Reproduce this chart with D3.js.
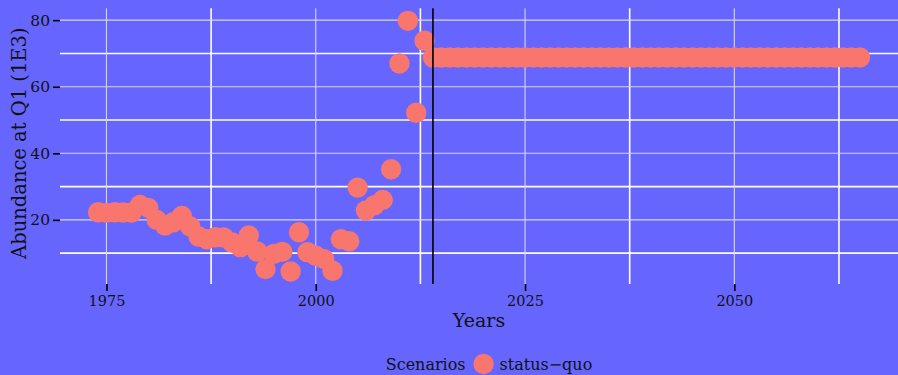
<!DOCTYPE html>
<html>
<head>
<meta charset="utf-8">
<script src="https://cdn.jsdelivr.net/npm/d3@7"></script>
<style>
  html, body { margin: 0; padding: 0; background: #6666ff; }
  svg { display: block; }
  text { font-family: "DejaVu Serif", serif; fill: #111; }
</style>
</head>
<body>
<svg id="chart" width="898" height="375"></svg>
<script>
// Observed abundance (thousands) and the status-quo projection
const histYears = [1974, 1975, 1976, 1977, 1978, 1979, 1980, 1981, 1982, 1983,
  1984, 1985, 1986, 1987, 1988, 1989, 1990, 1991, 1992, 1993,
  1994, 1995, 1996, 1997, 1998, 1999, 2000, 2001, 2002, 2003,
  2004, 2005, 2006, 2007, 2008, 2009, 2010, 2011, 2012, 2013];
const histValues = [22.3, 22.1, 22.3, 22.2, 22.2, 24.5, 23.6, 20.0, 18.3, 19.3,
  21.2, 18.0, 15.0, 14.2, 14.8, 14.7, 13.2, 11.8, 15.3, 10.5,
  5.2, 9.8, 10.4, 4.5, 16.3, 10.3, 9.2, 8.2, 4.7, 14.2,
  13.6, 29.7, 22.8, 24.4, 26.0, 35.2, 67.0, 79.8, 52.2, 73.8];
const projYears = [2014, 2015, 2016, 2017, 2018, 2019, 2020, 2021, 2022, 2023,
  2024, 2025, 2026, 2027, 2028, 2029, 2030, 2031, 2032, 2033,
  2034, 2035, 2036, 2037, 2038, 2039, 2040, 2041, 2042, 2043,
  2044, 2045, 2046, 2047, 2048, 2049, 2050, 2051, 2052, 2053,
  2054, 2055, 2056, 2057, 2058, 2059, 2060, 2061, 2062, 2063,
  2064, 2065];
const projValues = [68.8, 68.8, 68.8, 68.8, 68.8, 68.8, 68.8, 68.8, 68.8, 68.8,
  68.8, 68.8, 68.8, 68.8, 68.8, 68.8, 68.8, 68.8, 68.8, 68.8,
  68.8, 68.8, 68.8, 68.8, 68.8, 68.8, 68.8, 68.8, 68.8, 68.8,
  68.8, 68.8, 68.8, 68.8, 68.8, 68.8, 68.8, 68.8, 68.8, 68.8,
  68.8, 68.8, 68.8, 68.8, 68.8, 68.8, 68.8, 68.8, 68.8, 68.8,
  68.8, 68.8];
const cutoffYear = 2014;
const xTicks = [1975, 2000, 2025, 2050];
const xMinor = [1987.5, 2012.5, 2037.5, 2062.5];
const yTicks = [20, 40, 60, 80];
const yMinor = [10, 30, 50, 70];
const scenarioName = "status\u2212quo";

const points = histYears.map((y, i) => ({ year: y, value: histValues[i] }))
  .concat(projYears.map((y, i) => ({ year: y, value: projValues[i] })));

const svg = d3.select("#chart");
const panel = { left: 60, right: 898, top: 8.3, bottom: 284 };
const pointColor = "#f8766d";

// ggplot-style 5% expansion of the data range
function expand(ext, f) {
  const pad = (ext[1] - ext[0]) * f;
  return [ext[0] - pad, ext[1] + pad];
}

const x = d3.scaleLinear()
  .domain(expand(d3.extent(points, d => d.year), 0.05))
  .range([panel.left, panel.right]);
const y = d3.scaleLinear()
  .domain(expand(d3.extent(points, d => d.value), 0.05))
  .range([panel.bottom, panel.top]);

// Grid: minor lines bright white, major lines pale
const grid = svg.append("g");
grid.selectAll("line.hmin").data(yMinor).join("line")
  .attr("x1", panel.left).attr("x2", panel.right)
  .attr("y1", d => y(d)).attr("y2", d => y(d))
  .attr("stroke", "#ffffff").attr("stroke-width", 1.6);
grid.selectAll("line.vmin").data(xMinor).join("line")
  .attr("y1", panel.top).attr("y2", panel.bottom)
  .attr("x1", d => x(d)).attr("x2", d => x(d))
  .attr("stroke", "#ffffff").attr("stroke-width", 1.6);
grid.selectAll("line.hmaj").data(yTicks).join("line")
  .attr("x1", panel.left).attr("x2", panel.right)
  .attr("y1", d => y(d)).attr("y2", d => y(d))
  .attr("stroke", "#d4d4fb").attr("stroke-width", 1.1);
grid.selectAll("line.vmaj").data(xTicks).join("line")
  .attr("y1", panel.top).attr("y2", panel.bottom)
  .attr("x1", d => x(d)).attr("x2", d => x(d))
  .attr("stroke", "#d4d4fb").attr("stroke-width", 1.1);

// Points
svg.append("g").selectAll("circle").data(points).join("circle")
  .attr("cx", d => x(d.year))
  .attr("cy", d => y(d.value))
  .attr("r", 10.2)
  .attr("fill", pointColor);

// Start of projection
svg.append("line")
  .attr("x1", x(cutoffYear)).attr("x2", x(cutoffYear))
  .attr("y1", panel.top).attr("y2", panel.bottom)
  .attr("stroke", "#000").attr("stroke-width", 1.6);

// Axes
const xAxis = d3.axisBottom(x).tickValues(xTicks).tickFormat(d3.format("d"))
  .tickSize(7).tickPadding(5);
const gx = svg.append("g").attr("transform", `translate(0,${panel.bottom})`).call(xAxis);
const yAxis = d3.axisLeft(y).tickValues(yTicks).tickFormat(d3.format("d"))
  .tickSize(7).tickPadding(3);
const gy = svg.append("g").attr("transform", `translate(${panel.left},0)`).call(yAxis);
[gx, gy].forEach(g => {
  g.select(".domain").remove();
  g.selectAll(".tick line").attr("stroke", "#000").attr("stroke-width", 1.6);
  g.selectAll(".tick text").attr("fill", "#111")
    .style("font-family", '"DejaVu Serif", serif');
});
gx.selectAll(".tick text").style("font-size", "14.5px");
gy.selectAll(".tick text").style("font-size", "15.5px");

// Axis titles
svg.append("text")
  .attr("x", (panel.left + panel.right) / 2).attr("y", 327)
  .attr("text-anchor", "middle").style("font-size", "19px")
  .text("Years");
svg.append("text")
  .attr("transform", `translate(26,${(panel.top + panel.bottom) / 2 - 3}) rotate(-90)`)
  .attr("text-anchor", "middle").style("font-size", "19.5px")
  .text("Abundance at Q1 (1E3)");

// Legend
const leg = svg.append("g");
const legTitle = leg.append("text").attr("x", 0).attr("y", 0)
  .style("font-size", "16px").text("Scenarios");
const tw = legTitle.node().getComputedTextLength();
leg.append("circle").attr("cx", tw + 18).attr("cy", -6).attr("r", 10.2).attr("fill", pointColor);
const legLabel = leg.append("text").attr("x", tw + 34).attr("y", 0)
  .style("font-size", "16px").text(scenarioName);
const total = tw + 34 + legLabel.node().getComputedTextLength();
leg.attr("transform", `translate(${489 - total / 2},370)`);
</script>
</body>
</html>
